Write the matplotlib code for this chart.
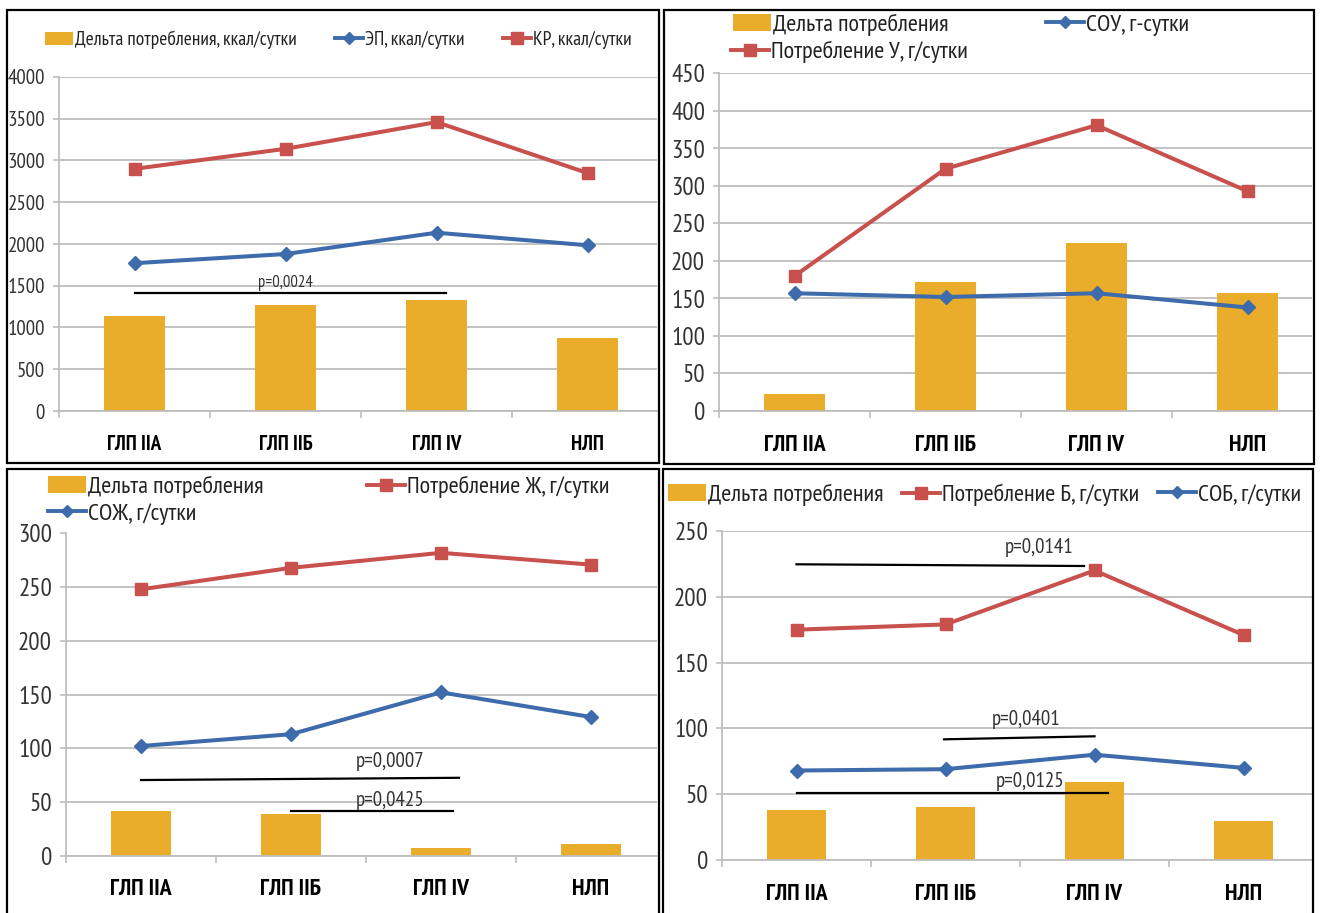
import numpy as np
import matplotlib
matplotlib.use("Agg")
import matplotlib.pyplot as plt
from matplotlib import font_manager
from matplotlib.patches import Rectangle, Patch
from matplotlib.lines import Line2D

names = {f.name for f in font_manager.fontManager.ttflist}
narrow = next((n for n in ['PT Sans Narrow', 'Archivo Narrow', 'Roboto Condensed']
               if n in names), 'DejaVu Sans')
plt.rcParams['font.family'] = [narrow, 'DejaVu Sans']

groups = ['ГЛП IIА', 'ГЛП IIБ', 'ГЛП IV', 'НЛП']

# энергия
kcal_delta = [1135, 1265, 1330, 875]
ep_kcal = [1770, 1880, 2135, 1985]
kr_kcal = [2900, 3140, 3460, 2850]

# углеводы
carb_delta = [23, 172, 224, 157]
sou = [157, 152, 157, 138]
carb_intake = [180, 323, 381, 293]

# жиры
fat_delta = [41, 39, 7, 11]
fat_intake = [248, 268, 282, 271]
sozh = [102, 113, 152, 129]

# белки
prot_delta = [38, 40, 59, 30]
prot_intake = [175, 179, 220, 171]
sob = [68, 69, 80, 70]

# p-values: (x from, x to, y from, y to, text, text x, text y)
p_kcal = [(0.0, 2.06, 1409, 1409, 'p=0,0024', 1.0, 1536)]
p_carb = []
p_fat = [(0.0, 2.12, 70.3, 72.4, 'p=0,0007', 1.66, 88),
         (1.0, 2.08, 41.4, 41.4, 'p=0,0425', 1.66, 51)]
p_prot = [(0.0, 1.93, 224.7, 223.4, 'p=0,0141', 1.63, 237.6),
          (0.99, 2.0, 91.7, 94.0, 'p=0,0401', 1.54, 107),
          (0.0, 2.09, 51.2, 51.2, 'p=0,0125', 1.57, 60)]

W, H = 1323, 913
GOLD = '#E9AD2B'
RED = '#C8504D'
BLUE = '#3D6BAB'
GRID = '#BEBEBE'

fig = plt.figure(figsize=(W / 100, H / 100), dpi=100)


def frac(x0, y0, x1, y1):
    return [x0 / W, 1 - y1 / H, (x1 - x0) / W, (y1 - y0) / H]


def frame(x0, y0, x1, y1):
    fig.add_artist(Rectangle((x0 / W, 1 - y1 / H), (x1 - x0) / W, (y1 - y0) / H,
                             transform=fig.transFigure, fill=False,
                             edgecolor='black', linewidth=1.6))


def legend_entry(kind, label, x, y, hl=1.55, size=17.5):
    if kind == 'bar':
        h = Patch(facecolor=GOLD, edgecolor='none')
    elif kind == 'red':
        h = Line2D([], [], color=RED, lw=2.8, marker='s', markersize=8.5)
    else:
        h = Line2D([], [], color=BLUE, lw=2.8, marker='D', markersize=6.5)
    fig.legend(handles=[h], labels=[label], loc='center left',
               bbox_to_anchor=(x / W, 1 - y / H), frameon=False,
               borderpad=0, borderaxespad=0, handlelength=hl,
               handletextpad=0.1, fontsize=size, labelcolor='#222222')


def panel(rect, step_px, ymax, ystep, delta, series, pvals,
          tick_size=18, cat_size=17, p_size=15):
    x0, y0, x1, y1 = rect
    ax = fig.add_axes(frac(x0, y0, x1, y1))
    x = np.arange(len(groups))
    ax.set_xlim(-0.5, -0.5 + (x1 - x0) / step_px)
    ax.set_ylim(0, ymax)
    ax.bar(x, delta, width=0.4, color=GOLD, zorder=2)
    for vals, color, marker, ms in series:
        ax.plot(x, vals, color=color, lw=2.9, marker=marker, markersize=ms,
                zorder=3)
    for xa, xb, ya, yb, txt, tx, ty in pvals:
        ax.plot([xa, xb], [ya, yb], color='black', lw=1.6, zorder=4)
        ax.text(tx, ty, txt, ha='center', va='center', fontsize=p_size,
                color='#333333', zorder=5)
    ax.set_yticks(np.arange(0, ymax + 1, ystep))
    ax.yaxis.grid(True, color=GRID, lw=1.3)
    ax.set_axisbelow(True)
    for s in ['top', 'right']:
        ax.spines[s].set_visible(False)
    ax.spines['left'].set_color(GRID)
    ax.spines['bottom'].set_color(GRID)
    ax.spines['left'].set_linewidth(1.3)
    ax.spines['bottom'].set_linewidth(1.3)
    ax.set_xticks(x)
    ax.set_xticklabels(groups, fontsize=cat_size, fontweight='bold', color='black')
    ax.set_xticks(np.arange(-0.5, 3.0, 1.0), minor=True)
    ax.tick_params(axis='x', which='major', length=0, pad=17)
    ax.tick_params(axis='x', which='minor', length=5, width=1.2, color=GRID,
                   direction='out')
    ax.tick_params(axis='y', length=4, width=1.2, color=GRID, pad=6,
                   labelsize=tick_size, labelcolor='#333333')
    return ax


# рамки панелей
frame(7, 10, 659, 463)
frame(664, 10, 1314, 464)
frame(7, 469, 659, 930)
frame(663, 469, 1313, 930)

panel((59, 77, 657, 411), 151, 4000, 500, kcal_delta,
      [(ep_kcal, BLUE, 'D', 7), (kr_kcal, RED, 's', 9)], p_kcal,
      tick_size=15, cat_size=15, p_size=12)
panel((719, 73.5, 1312, 411), 151, 450, 50, carb_delta,
      [(sou, BLUE, 'D', 7), (carb_intake, RED, 's', 9)], p_carb)
panel((66, 533.5, 657, 855.5), 150, 300, 50, fat_delta,
      [(fat_intake, RED, 's', 9), (sozh, BLUE, 'D', 7)], p_fat)
panel((722, 531, 1312, 860), 149, 250, 50, prot_delta,
      [(prot_intake, RED, 's', 9), (sob, BLUE, 'D', 7)], p_prot)

legend_entry('bar', 'Дельта потребления, ккал/сутки', 45, 40, hl=1.45, size=14)
legend_entry('blue', 'ЭП, ккал/сутки', 335, 40, hl=1.45, size=14)
legend_entry('red', 'КР, ккал/сутки', 503, 40, hl=1.45, size=14)

legend_entry('bar', 'Дельта потребления', 733, 25)
legend_entry('blue', 'СОУ, г-сутки', 1046, 25)
legend_entry('red', 'Потребление У, г/сутки', 731, 52)

legend_entry('bar', 'Дельта потребления', 48, 487)
legend_entry('red', 'Потребление Ж, г/сутки', 367, 487)
legend_entry('blue', 'СОЖ, г/сутки', 48, 514)

legend_entry('bar', 'Дельта потребления', 668, 495)
legend_entry('red', 'Потребление Б, г/сутки', 902, 495)
legend_entry('blue', 'СОБ, г/сутки', 1158, 495)

fig.savefig('out.png', dpi=100, facecolor='white')
